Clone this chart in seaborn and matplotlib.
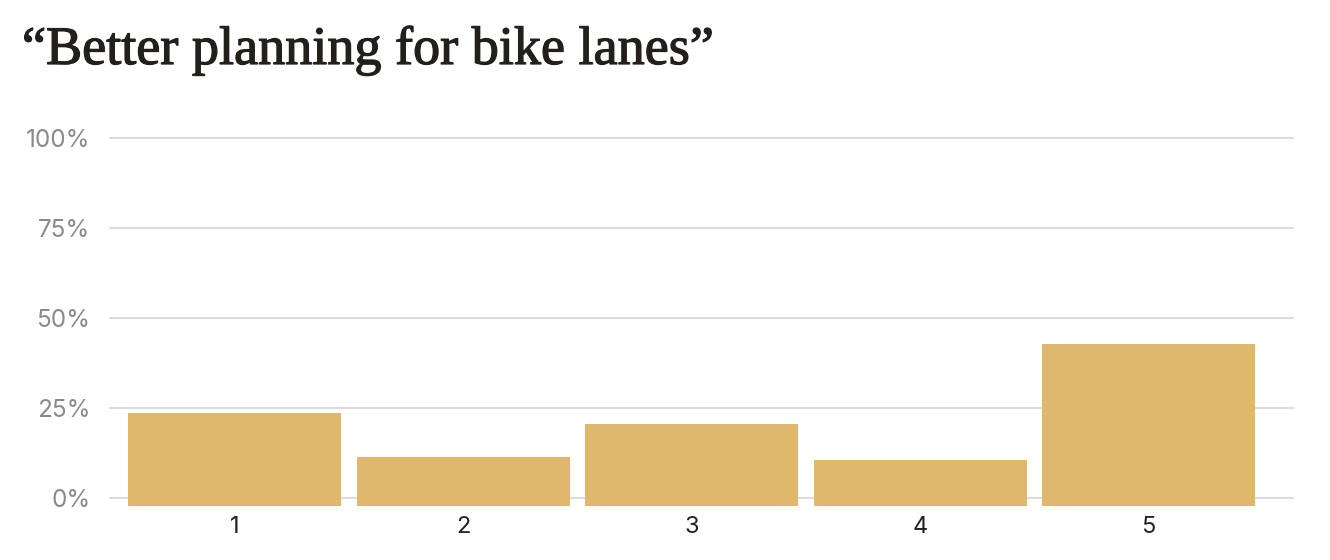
import numpy as np
import pandas as pd
import seaborn as sns
import matplotlib.pyplot as plt
import matplotlib.patheffects as pe
from matplotlib.ticker import FuncFormatter

# -----------------------------
# Data
# -----------------------------
title = "\u201cBetter planning for bike lanes\u201d"
ratings = ["1", "2", "3", "4", "5"]
share_pct = [23.7, 11.5, 20.7, 10.7, 42.9]
y_ticks = [0, 25, 50, 75, 100]

bar_color = "#dfb76d"
grid_color = "#dcdcdc"

# -----------------------------
# Plot
# -----------------------------
sns.set_theme(style="white")
plt.rcParams['font.family'] = ['Inter', 'DejaVu Sans']

df = pd.DataFrame({'rating': ratings, 'share': share_pct})

fig = plt.figure(figsize=(13.3, 5.6), dpi=100)
ax = fig.add_axes([0.0827, 0.0964, 0.8895, 0.659])

for t in y_ticks:
    ax.axhline(t, color=grid_color, linewidth=1.5, zorder=0, clip_on=False)

sns.barplot(data=df, x='rating', y='share', color=bar_color, width=0.932,
            saturation=1, ax=ax, zorder=2)

# bars hang a little below the zero line
base = -2.2
for p in ax.patches:
    top = p.get_y() + p.get_height()
    p.set_y(base)
    p.set_height(top - base)
    p.set_linewidth(0)

ax.set_xlim(-0.545, 4.632)
ax.set_ylim(base, 100.3)
ax.set_yticks(y_ticks)
ax.yaxis.set_major_formatter(FuncFormatter(lambda v, _: f"{int(v)}%"))
ax.tick_params(axis='y', length=0, pad=14, labelsize=17.5, labelcolor='#8a8a8a')
ax.tick_params(axis='x', length=0, pad=7, labelsize=17, labelcolor='#222222')
ax.set_xlabel('')
ax.set_ylabel('')
sns.despine(ax=ax, left=True, bottom=True)

fig.text(22 / 1330, 1 - 64 / 560, title, fontsize=39, color='#231f1a',
         family=['Liberation Serif', 'DejaVu Serif'], ha='left', va='baseline',
         path_effects=[pe.withStroke(linewidth=0.9, foreground='#231f1a')])

fig.savefig('out.png', dpi=100)
